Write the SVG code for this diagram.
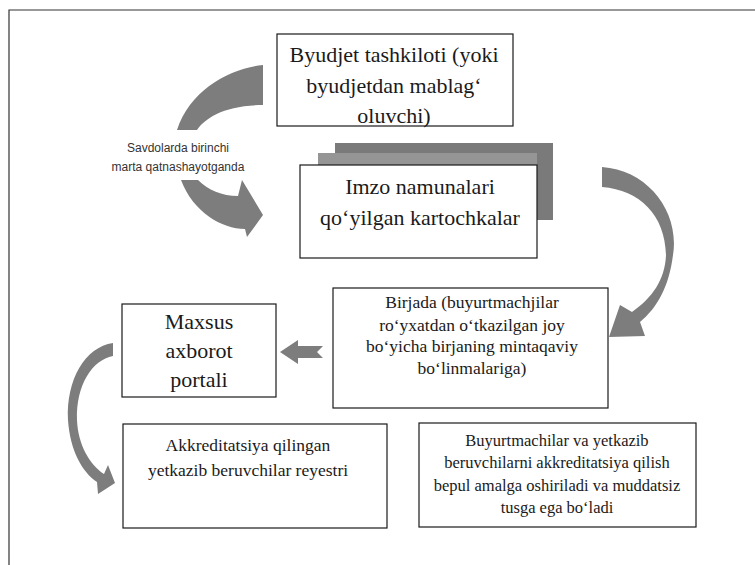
<svg xmlns="http://www.w3.org/2000/svg" width="755" height="565" viewBox="0 0 755 565">
<style>
.box{fill:#fff;stroke:#1a1a1a;stroke-width:1.2}
.t{font-family:"Liberation Serif","Times New Roman",serif;fill:#1a1a1a;text-anchor:middle}
.big{font-size:22px}
.mid{font-size:17.5px}
.sm{font-size:16.5px}
.lbl{font-family:"Liberation Sans",Arial,sans-serif;font-size:12px;fill:#333;text-anchor:middle}
.arr{fill:#7d7d7d}
</style>
<defs>
<linearGradient id="g1" x1="0" y1="0" x2="1" y2="1">
<stop offset="0" stop-color="#8a8a8a"/><stop offset="1" stop-color="#6e6e6e"/>
</linearGradient>
<linearGradient id="g2" x1="0" y1="0" x2="0" y2="1">
<stop offset="0" stop-color="#6f6f6f"/><stop offset="1" stop-color="#9a9a9a"/>
</linearGradient>
</defs>
<rect width="755" height="565" fill="#fff"/>
<path d="M9,565 V10 H755" fill="none" stroke="#333" stroke-width="1.2"/>

<g id="connectors">
<path class="arr" fill="url(#g1)" d="M263,65 C230,68 190,90 177,130 L197,130 C205,118 225,105 263,105 Z"/>
<path class="arr" d="M181,180 L198,180 C208,190 222,196 238,196 L242,180 L263,215 L247,237 L245,229 C222,229 193,212 181,180 Z"/>
<path class="arr" d="M602,167 C648,170 680,212 673,255 C669,287 657,308 640,322 L645,336 L609,337 L620,305 L632,312 C652,298 665,280 666,255 C665,215 640,190 602,187 Z"/>
<path class="arr" fill="#8c8c8c" d="M280,352 L298,340 L298,346 L323,346 L317,352 L323,358 L298,358 L298,364 Z"/>
<path class="arr" fill="url(#g2)" d="M113,343 C85,347 66,380 68,420 C70,450 82,472 97,482 L98,494 L115,483 L108,465 L104,474 C90,465 78,445 77,420 C76,385 92,360 113,356 Z"/>
</g>

<g id="label-first">
<text class="lbl" x="178" y="152">Savdolarda birinchi</text>
<text class="lbl" x="178" y="171">marta qatnashayotganda</text>
</g>

<g id="node-byudjet">
<rect class="box" x="277" y="34" width="236" height="92"/>
<text class="t big" x="394" y="62">Byudjet tashkiloti (yoki</text>
<text class="t big" x="394" y="93">byudjetdan mablag‘</text>
<text class="t big" x="394" y="123">oluvchi)</text>
</g>

<g id="node-imzo">
<rect x="335" y="143" width="218" height="77" fill="#7a7a7a"/>
<rect x="318" y="153" width="219" height="80" fill="#959595"/>
<rect class="box" x="300" y="165" width="237" height="93"/>
<text class="t big" x="420" y="194">Imzo namunalari</text>
<text class="t big" x="420" y="225">qo‘yilgan kartochkalar</text>
</g>

<g id="node-birjada">
<rect class="box" x="333" y="288" width="275" height="120"/>
<text class="t mid" x="472" y="308">Birjada (buyurtmachjilar</text>
<text class="t mid" x="472" y="331">ro‘yxatdan o‘tkazilgan joy</text>
<text class="t mid" x="472" y="352">bo‘yicha birjaning mintaqaviy</text>
<text class="t mid" x="472" y="374">bo‘linmalariga)</text>
</g>

<g id="node-maxsus">
<rect class="box" x="122" y="304" width="154" height="93"/>
<text class="t big" x="199" y="329">Maxsus</text>
<text class="t big" x="199" y="358">axborot</text>
<text class="t big" x="199" y="387">portali</text>
</g>

<g id="node-akkred">
<rect class="box" x="123" y="424" width="264" height="104"/>
<text class="t mid" x="248" y="451">Akkreditatsiya qilingan</text>
<text class="t mid" x="248" y="476">yetkazib beruvchilar reyestri</text>
</g>

<g id="node-buyurt">
<rect class="box" x="419" y="423" width="277" height="104"/>
<text class="t sm" x="557" y="446">Buyurtmachilar va yetkazib</text>
<text class="t sm" x="557" y="468">beruvchilarni akkreditatsiya qilish</text>
<text class="t sm" x="557" y="491">bepul amalga oshiriladi va muddatsiz</text>
<text class="t sm" x="557" y="513">tusga ega bo‘ladi</text>
</g>
</svg>
